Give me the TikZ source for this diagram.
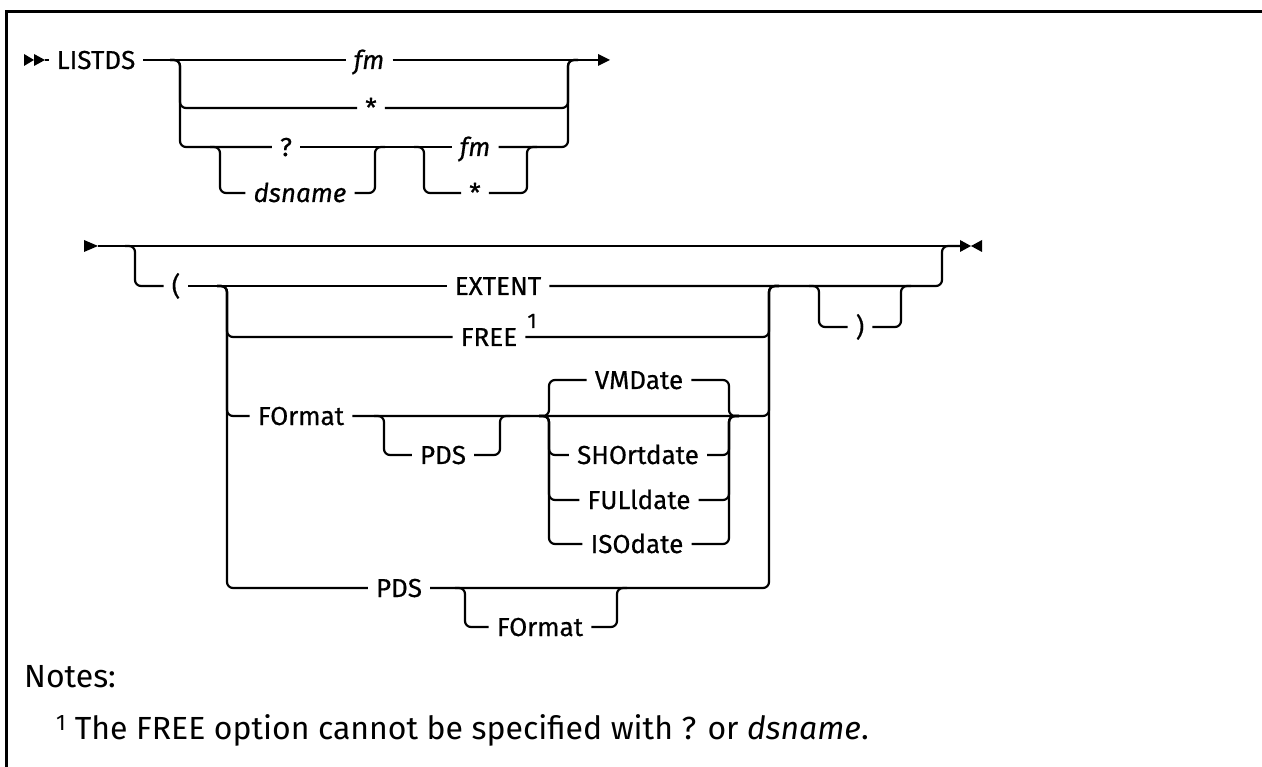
\documentclass[tikz,border=0pt]{standalone}
\usepackage{fontspec}
\setmainfont{Fira Sans}
\newfontfamily\railfont{Fira Sans}[FakeBold=0.5]
\usepackage{tikz}
\usetikzlibrary{calc,positioning}

\begin{document}
\begin{tikzpicture}[x=1pt,y=-1pt]
    \tikzstyle{every node}=[inner xsep=8pt,inner ysep=0pt,text height=18pt,
                            text depth=0pt,font=\railfont\fontsize{26}{30}\selectfont]
    \tikzstyle{rail}=[line width=2.2pt,rounded corners=6pt]
    \tikzstyle{note}=[anchor=west,inner sep=0pt,text height=,text depth=,
                      font=\rmfamily\fontsize{32}{36}\selectfont]
    \useasboundingbox (0,0) rectangle (1262,767);

    % frame, top and left side only
    \draw [line width=3pt] (1262,12) -- (6.5,12) -- (6.5,767);

    % first line: LISTDS fm
    \fill (24,54) -- (34,60) -- (24,66) -- cycle;
    \fill (34,54) -- (45,60) -- (34,66) -- cycle;
    \coordinate (st1) at (45,60);
    \node (listds) at (96,60) {LISTDS};
    \node (fm) at (369,60) {\itshape fm};
    \node (star) at (371,108) {*};
    \node (qm) at (286,147) {?};
    \node (dsn) at (300,193) {\itshape dsname};
    \node (fmb) at (475,147) {\itshape fm};
    \node (starb) at (475,193) {*};
    \coordinate (s1) at (180,60);
    \coordinate (m1) at (568,60);
    \coordinate (qs) at (220,147);
    \coordinate (qe) at (375,147);
    \coordinate (fs) at (424,147);
    \coordinate (fe) at (527,147);
    \coordinate (end1) at (598,60);

    \draw [rail] (st1) -- (listds.west);
    \draw [rail] (listds.east) -- (fm.west);
    \draw [rail] (fm.east) -- (end1);
    \fill (598,54) -- (610,60) -- (598,66) -- cycle;
    \draw [rail] ($(s1)+(-10,0)$) -- (s1) |- (star.west);
    \draw [rail] (star.east) -| (m1) -- +(10,0);
    \draw [rail] ($(s1)+(-10,0)$) -- (s1) |- (qm.west);
    \draw [rail] (qm.east) -- (fmb.west);
    \draw [rail] (fmb.east) -| (m1) -- +(10,0);
    \draw [rail] ($(qs)+(-10,0)$) -- (qs) |- (dsn.west);
    \draw [rail] (dsn.east) -| (qe) -- +(10,0);
    \draw [rail] ($(fs)+(-10,0)$) -- (fs) |- (starb.west);
    \draw [rail] (starb.east) -| (fe) -- +(10,0);

    % second line: options
    \fill (84,240) -- (98,246) -- (84,252) -- cycle;
    \coordinate (st2) at (98,246);
    \coordinate (end2) at (960,246);
    \fill (960,240) -- (971,246) -- (960,252) -- cycle;
    \fill (982,240) -- (971,246) -- (982,252) -- cycle;
    \coordinate (s2) at (135,246);
    \coordinate (m2) at (942,246);
    \coordinate (s3) at (227,286);
    \coordinate (m3) at (769,286);
    \node (lp) at (176,286) {(};
    \node (ext) at (498,286) {EXTENT};
    \node (free) at (489,337) {FREE};
    \node [font=\railfont\fontsize{21}{24}\selectfont,inner sep=0pt] (one) at (532,319) {1};
    \node (fmt) at (301,416) {FOrmat};
    \node (pds1) at (443,455) {PDS};
    \node (vmd) at (639,380) {VMDate};
    \node (sho) at (638,455) {SHOrtdate};
    \node (ful) at (639,500) {FULldate};
    \node (iso) at (637,544) {ISOdate};
    \node (pds2) at (399,588) {PDS};
    \node (fmt2) at (540,627) {FOrmat};
    \node (rp) at (860,327) {)};
    \coordinate (ps) at (384,416);
    \coordinate (pe) at (500,416);
    \coordinate (ds) at (549,416);
    \coordinate (de) at (729,416);
    \coordinate (gs) at (465,588);
    \coordinate (ge) at (617,588);
    \coordinate (rs) at (819,286);
    \coordinate (re) at (901,286);

    \draw [rail] (st2) -- (end2);
    \draw [rail] ($(s2)+(-10,0)$) -- (s2) |- (lp.west);
    \draw [rail] (lp.east) -- (ext.west);
    \draw [rail] (ext.east) -| (m2) -- (end2);
    \draw [rail] ($(rs)+(-10,0)$) -- (rs) |- (rp.west);
    \draw [rail] (rp.east) -| (re) -- +(10,0);
    \draw [rail] ($(s3)+(-10,0)$) -- (s3) |- (free.west);
    \draw [rail] (free.east) -| (m3) -- +(10,0);
    \draw [rail] ($(s3)+(-10,0)$) -- (s3) |- (fmt.west);
    \draw [rail] (fmt.east) -- (de) -| (m3) -- +(10,0);
    \draw [rail] ($(ps)+(-10,0)$) -- (ps) |- (pds1.west);
    \draw [rail] (pds1.east) -| (pe) -- +(10,0);
    \draw [rail] ($(ds)+(-10,0)$) -- (ds) |- (vmd.west);
    \draw [rail] (vmd.east) -| (de) -- +(10,0);
    \draw [rail] ($(ds)+(-10,0)$) -- (ds) |- (sho.west);
    \draw [rail] (sho.east) -| (de) -- +(10,0);
    \draw [rail] ($(ds)+(-10,0)$) -- (ds) |- (ful.west);
    \draw [rail] (ful.east) -| (de) -- +(10,0);
    \draw [rail] ($(ds)+(-10,0)$) -- (ds) |- (iso.west);
    \draw [rail] (iso.east) -| (de) -- +(10,0);
    \draw [rail] ($(s3)+(-10,0)$) -- (s3) |- (pds2.west);
    \draw [rail] (pds2.east) -| (m3) -- +(10,0);
    \draw [rail] ($(gs)+(-10,0)$) -- (gs) |- (fmt2.west);
    \draw [rail] (fmt2.east) -| (ge) -- +(10,0);

    % notes
    \node [note] (notes) at (24,677) {Notes:};
    \node [note] (fn) at (56,730) {\textsuperscript{1} The FREE option cannot be specified with ? or \textit{dsname}.};
\end{tikzpicture}
\end{document}
